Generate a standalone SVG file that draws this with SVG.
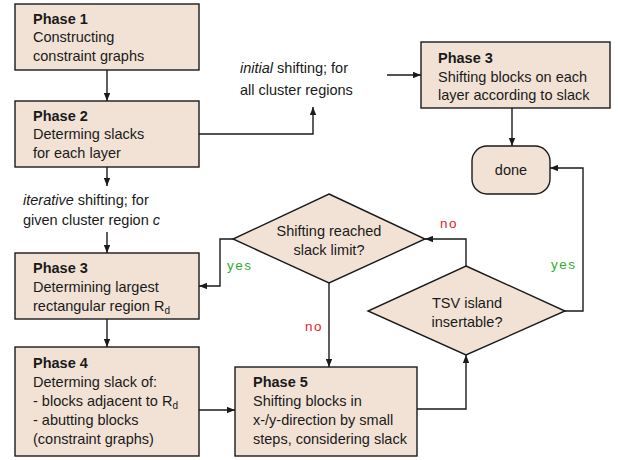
<svg xmlns="http://www.w3.org/2000/svg" width="618" height="460" viewBox="0 0 618 460">
<style>
text{font-family:"Liberation Sans",Arial,sans-serif;font-size:14.5px;fill:#1a1a1a}
.b{font-weight:bold}
.node{fill:#f2e2d5;stroke:#1a1a1a;stroke-width:1.4}
.c{text-anchor:middle}
.edge{fill:none;stroke:#1a1a1a;stroke-width:1.4;marker-end:url(#ah)}
.no{fill:#e8202a;letter-spacing:1.5px;font-size:13.5px}
.yes{fill:#2cb02c;letter-spacing:1.5px;font-size:13.5px}
.i{font-style:italic}
.sub{font-size:10px}
</style>
<defs>
<marker id="ah" viewBox="0 0 10 8" refX="10" refY="4" markerWidth="8" markerHeight="6.4" markerUnits="userSpaceOnUse" orient="auto">
<path d="M0,0 L10,4 L0,8 z" fill="#1a1a1a"/>
</marker>
</defs>
<rect width="618" height="460" fill="#fff"/>
<g id="connectors">
<path class="edge" d="M107,70 V101"/>
<path class="edge" d="M107,167 V186"/>
<path class="edge" d="M199,134 H313 V107"/>
<path class="edge" d="M387,75 H421"/>
<path class="edge" d="M512,108 V146"/>
<path class="edge" d="M107,232 V253"/>
<path class="edge" d="M233,239 H220 V286 H199"/>
<path class="edge" d="M107,319 V347"/>
<path class="edge" d="M199,410 H235"/>
<path class="edge" d="M329,283 V367"/>
<path class="edge" d="M417,409 H466 V355"/>
<path class="edge" d="M466,266 V239 H425"/>
<path class="edge" d="M565,311 H583 V168 H550"/>
</g>
<g id="labels">
<text x="240" y="73"><tspan class="i">initial</tspan> shifting; for</text>
<text x="240" y="95">all cluster regions</text>
<text x="23" y="205"><tspan class="i">iterative</tspan> shifting; for</text>
<text x="23" y="225">given cluster region <tspan class="i">c</tspan></text>
<text class="no" x="440" y="228">no</text>
<text class="yes" x="551" y="269">yes</text>
<text class="yes" x="227" y="270">yes</text>
<text class="no" x="305" y="331">no</text>
</g>
<g id="phase1">
<rect class="node" x="15" y="4" width="184" height="66"/>
<text class="b" x="33" y="24">Phase 1</text>
<text x="33" y="42">Constructing</text>
<text x="33" y="61">constraint graphs</text>
</g>
<g id="phase2">
<rect class="node" x="15" y="101" width="184" height="66"/>
<text class="b" x="33" y="121">Phase 2</text>
<text x="33" y="139">Determing slacks</text>
<text x="33" y="158">for each layer</text>
</g>
<g id="phase3top">
<rect class="node" x="421" y="42" width="189" height="66"/>
<text class="b" x="438" y="63">Phase 3</text>
<text x="438" y="82">Shifting blocks on each</text>
<text x="438" y="100">layer according to slack</text>
</g>
<g id="done">
<rect class="node" x="472" y="146" width="78" height="48" rx="15" ry="15"/>
<text class="c" x="511" y="175">done</text>
</g>
<g id="slacklimit">
<polygon class="node" points="329,194 425,239 329,283 233,239"/>
<text class="c" x="329" y="236">Shifting reached</text>
<text class="c" x="329" y="255">slack limit?</text>
</g>
<g id="tsv">
<polygon class="node" points="466,266 565,311 466,355 368,311"/>
<text class="c" x="467" y="308">TSV island</text>
<text class="c" x="467" y="327">insertable?</text>
</g>
<g id="phase3">
<rect class="node" x="15" y="253" width="184" height="66"/>
<text class="b" x="33" y="273">Phase 3</text>
<text x="33" y="292">Determining largest</text>
<text x="33" y="311">rectangular region R<tspan class="sub" dy="3">d</tspan></text>
</g>
<g id="phase4">
<rect class="node" x="15" y="347" width="184" height="109"/>
<text class="b" x="33" y="368">Phase 4</text>
<text x="33" y="387">Determing slack of:</text>
<text x="33" y="406">- blocks adjacent to R<tspan class="sub" dy="3">d</tspan></text>
<text x="33" y="425">- abutting blocks</text>
<text x="33" y="444">(constraint graphs)</text>
</g>
<g id="phase5">
<rect class="node" x="235" y="367" width="182" height="89"/>
<text class="b" x="253" y="387">Phase 5</text>
<text x="253" y="406">Shifting blocks in</text>
<text x="253" y="425">x-/y-direction by small</text>
<text x="253" y="444">steps, considering slack</text>
</g>
</svg>
